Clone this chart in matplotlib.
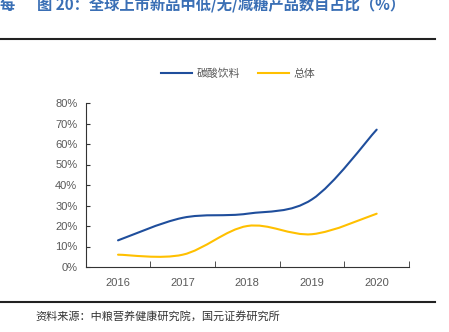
import numpy as np
import matplotlib.pyplot as plt
from matplotlib.path import Path
from matplotlib.patches import PathPatch
from matplotlib.lines import Line2D
from matplotlib.ticker import PercentFormatter

plt.rcParams['font.family'] = ['Noto Sans CJK SC', 'DejaVu Sans']

years = ['2016', '2017', '2018', '2019', '2020']
soda = [13, 24, 26, 33, 67]
total = [6, 6, 20, 16, 26]

blue = '#1f4e9c'
gold = '#ffc000'
grey = '#595959'


def smooth_path(xs, ys, tension=1 / 6):
    # cubic bezier through the points (Catmull-Rom style control points)
    pts = np.column_stack([xs, ys]).astype(float)
    verts = [pts[0]]
    codes = [Path.MOVETO]
    n = len(pts)
    for i in range(n - 1):
        p0 = pts[i - 1] if i > 0 else pts[i]
        p1, p2 = pts[i], pts[i + 1]
        p3 = pts[i + 2] if i + 2 < n else pts[i + 1]
        c1 = p1 + (p2 - p0) * tension
        c2 = p2 - (p3 - p1) * tension
        verts += [c1, c2, p2]
        codes += [Path.CURVE4] * 3
    return Path(verts, codes)


fig = plt.figure(figsize=(4.49, 3.32), dpi=100)
ax = fig.add_axes([85.7 / 449, 1 - 267 / 332, (409 - 85.7) / 449, (267 - 103) / 332])

x = np.arange(len(years))
for vals, col in [(soda, blue), (total, gold)]:
    ax.add_patch(PathPatch(smooth_path(x, vals), facecolor='none',
                           edgecolor=col, lw=1.5, capstyle='round'))

num_font = {'family': 'Liberation Sans', 'size': 8}
ax.set_xlim(-0.5, len(years) - 0.5)
ax.set_ylim(0, 80)
ax.set_yticks(range(0, 81, 10))
ax.yaxis.set_major_formatter(PercentFormatter(decimals=0))
ax.set_xticks(x)
ax.set_xticklabels(years)
ax.set_xticks(np.arange(-0.5, len(years)), minor=True)
ax.tick_params(axis='x', which='major', length=0, pad=8, labelcolor=grey)
ax.tick_params(axis='x', which='minor', length=4, direction='in', color='#333333')
ax.tick_params(axis='y', length=3, direction='in', labelcolor=grey,
               color='#333333', pad=6)
for lab in ax.get_xticklabels() + ax.get_yticklabels():
    lab.set_fontfamily(num_font['family'])
    lab.set_fontsize(num_font['size'])
for side in ['top', 'right']:
    ax.spines[side].set_visible(False)
for side in ['left', 'bottom']:
    ax.spines[side].set_color('#333333')
    ax.spines[side].set_linewidth(0.8)

handles = [Line2D([], [], color=blue, lw=1.5), Line2D([], [], color=gold, lw=1.5)]
fig.legend(handles, ['碳酸饮料', '总体'], loc='center', bbox_to_anchor=(238 / 449, 1 - 74 / 332),
           ncol=2, frameon=False, fontsize=7.8, handlelength=2.9, columnspacing=1.6,
           labelcolor=grey, handletextpad=0.4)

# heading and source
fig.text(0, 1 - 5 / 332, '每', color='#3a6fb5', fontsize=11, fontweight='bold', va='center')
fig.text(37 / 449, 1 - 5 / 332, '图 20：全球上市新品中低/无/减糖产品数目占比（%）',
         color='#3a6fb5', fontsize=11, fontweight='bold', va='center')
fig.add_artist(Line2D([0, 435 / 449], [1 - 39 / 332] * 2, color='#222222', lw=1.5))
fig.add_artist(Line2D([0, 435 / 449], [1 - 302 / 332] * 2, color='#222222', lw=1.5))
fig.text(35 / 449, 1 - 316 / 332, '资料来源：中粮营养健康研究院，国元证券研究所',
         color='#333333', fontsize=8, va='center')

fig.savefig('out.png', dpi=100)
